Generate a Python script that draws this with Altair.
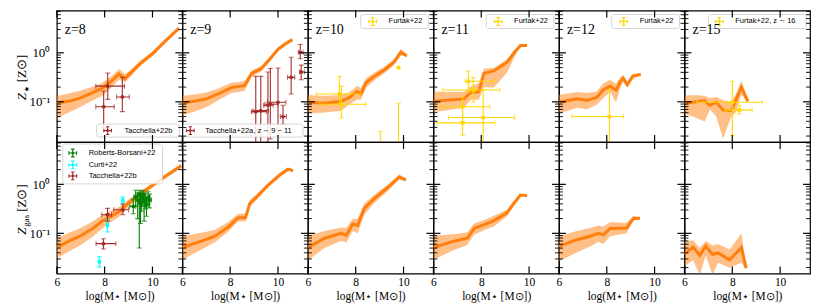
import altair as alt
import pandas as pd

# ---------------- data (log10 values) ----------------
PANEL_LABELS = ["z=8", "z=9", "z=10", "z=11", "z=12", "z=15"]
X_TICKS = [6, 8, 10]
Y_MAJOR = [0.1, 1.0]
Y_MAJOR_LABELS = ["10⁻¹", "10⁰"]
Y_MINOR = [0.02, 0.03, 0.04, 0.05, 0.06, 0.07, 0.08, 0.09,
           0.2, 0.3, 0.4, 0.5, 0.6, 0.7, 0.8, 0.9,
           2, 3, 4, 5, 6, 7]
X_TITLE = "log(M⋆ [M⊙])"
Y_SUBS = ["★", "gas"]

# curves: (log M*, median, lower, upper) with Z in log10
STAR_Z8 = [(6.0, -1.02, -1.33, -0.88), (6.5, -0.99, -1.22, -0.83), (7.0, -0.92, -1.10, -0.77),
           (7.5, -0.81, -0.97, -0.69), (7.9, -0.72, -0.88, -0.61), (8.3, -0.57, -0.70, -0.47),
           (8.6, -0.43, -0.55, -0.33), (8.85, -0.53, -0.60, -0.43), (9.05, -0.43, -0.50, -0.36),
           (9.5, -0.21, -0.27, -0.16), (10.0, -0.02, -0.07, 0.03), (10.5, 0.22, 0.18, 0.27),
           (11.1, 0.50, 0.46, 0.54)]
STAR_Z9 = [(6.0, -1.02, -1.27, -0.88), (6.5, -0.99, -1.20, -0.85), (7.0, -0.94, -1.11, -0.81),
           (7.5, -0.84, -0.97, -0.73), (8.05, -0.71, -0.82, -0.61), (8.6, -0.67, -0.78, -0.58),
           (8.9, -0.42, -0.49, -0.36), (9.3, -0.32, -0.38, -0.27), (9.6, -0.16, -0.21, -0.11),
           (10.0, 0.07, 0.03, 0.11), (10.3, 0.18, 0.14, 0.22), (10.6, 0.27, 0.24, 0.30)]
STAR_Z10 = [(6.0, -1.01, -1.24, -0.86), (6.69, -1.03, -1.22, -0.88), (7.39, -0.99, -1.18, -0.86),
            (7.74, -0.91, -1.05, -0.80), (8.06, -0.79, -0.95, -0.67), (8.22, -0.84, -0.95, -0.72),
            (8.43, -0.61, -0.72, -0.52), (8.78, -0.48, -0.56, -0.40), (9.19, -0.35, -0.42, -0.29),
            (9.6, -0.19, -0.25, -0.13), (9.89, 0.01, -0.05, 0.08), (10.14, -0.06, -0.09, -0.03)]
STAR_Z11 = [(6.0, -0.99, -1.21, -0.79), (6.58, -0.97, -1.17, -0.80), (7.28, -0.94, -1.12, -0.80),
            (7.56, -0.81, -0.96, -0.68), (7.9, -0.79, -0.96, -0.62), (8.11, -0.42, -0.70, -0.32),
            (8.53, -0.37, -0.71, -0.31), (9.08, -0.19, -0.40, -0.13), (9.43, 0.04, -0.05, 0.08),
            (9.64, 0.15, 0.12, 0.18), (9.92, 0.15, 0.13, 0.17)]
STAR_Z12 = [(6.0, -1.01, -1.24, -0.86), (6.75, -0.94, -1.12, -0.80), (7.17, -0.97, -1.15, -0.82),
            (7.58, -0.91, -1.06, -0.79), (7.86, -0.75, -0.92, -0.62), (8.14, -0.68, -0.80, -0.55),
            (8.39, -0.76, -1.01, -0.63), (8.56, -0.59, -0.72, -0.50), (8.69, -0.52, -0.60, -0.45),
            (8.86, -0.65, -0.70, -0.59), (9.08, -0.48, -0.53, -0.43), (9.42, -0.44, -0.47, -0.41)]
STAR_Z15 = [(6.0, -1.03, -1.24, -0.87), (6.5, -1.00, -1.33, -0.86), (6.85, -0.98, -1.40, -0.88),
            (7.06, -1.07, -1.15, -0.92), (7.33, -1.01, -1.30, -0.90), (7.61, -1.17, -1.75, -0.97),
            (7.96, -1.18, -1.30, -1.00), (8.17, -0.94, -1.20, -0.82), (8.38, -0.70, -0.85, -0.57),
            (8.65, -0.99, -1.02, -0.95)]

GAS_Z8 = [(6.0, -1.29, -1.51, -1.10), (6.5, -1.16, -1.37, -0.99), (7.0, -1.05, -1.24, -0.89),
          (7.5, -0.90, -1.07, -0.76), (7.9, -0.75, -0.90, -0.62), (8.3, -0.64, -0.76, -0.53),
          (8.6, -0.56, -0.66, -0.46), (9.0, -0.38, -0.46, -0.31), (9.5, -0.20, -0.26, -0.14),
          (10.0, -0.02, -0.07, 0.03), (10.5, 0.15, 0.11, 0.19), (11.2, 0.38, 0.34, 0.42)]
GAS_Z9 = [(6.0, -1.29, -1.54, -1.06), (6.8, -1.16, -1.33, -0.99), (7.36, -1.06, -1.18, -0.93),
          (7.92, -0.87, -0.97, -0.77), (8.33, -0.68, -0.76, -0.60), (8.64, -0.68, -0.76, -0.60),
          (8.82, -0.39, -0.46, -0.32), (9.1, -0.26, -0.32, -0.20), (9.58, -0.02, -0.06, 0.02),
          (10.07, 0.19, 0.15, 0.23), (10.42, 0.31, 0.28, 0.34), (10.63, 0.28, 0.26, 0.30)]
GAS_Z10 = [(6.0, -1.29, -1.55, -1.05), (6.7, -1.10, -1.30, -0.95), (7.39, -1.00, -1.15, -0.88),
           (7.6, -1.04, -1.19, -0.89), (7.88, -0.81, -0.95, -0.70), (8.08, -0.84, -1.00, -0.70),
           (8.36, -0.49, -0.62, -0.39), (8.78, -0.29, -0.38, -0.21), (9.33, -0.07, -0.14, -0.01),
           (9.82, 0.15, 0.10, 0.20), (10.1, 0.09, 0.06, 0.12)]
GAS_Z11 = [(6.0, -1.29, -1.54, -1.05), (6.86, -1.16, -1.34, -1.02), (7.42, -1.10, -1.24, -0.98),
           (7.7, -0.90, -1.03, -0.80), (8.18, -0.81, -0.92, -0.72), (8.53, -0.74, -0.86, -0.64),
           (9.08, -0.58, -0.65, -0.52), (9.36, -0.39, -0.44, -0.34), (9.64, -0.22, -0.24, -0.20),
           (9.92, -0.23, -0.25, -0.21)]
GAS_Z12 = [(6.0, -1.26, -1.57, -1.06), (6.75, -1.13, -1.39, -0.95), (7.3, -1.06, -1.27, -0.89),
           (7.65, -1.00, -1.17, -0.84), (7.86, -1.03, -1.22, -0.86), (8.14, -0.90, -1.06, -0.77),
           (8.83, -0.89, -1.00, -0.79), (9.11, -0.70, -0.74, -0.64), (9.39, -0.69, -0.71, -0.67)]
GAS_Z15 = [(6.0, -1.42, -1.67, -1.17), (6.36, -1.28, -1.55, -1.14), (6.64, -1.45, -1.85, -1.30),
           (6.89, -1.26, -1.45, -1.15), (7.17, -1.43, -1.85, -1.25), (7.4, -1.40, -1.60, -1.22),
           (7.89, -1.54, -1.70, -1.33), (8.38, -1.29, -1.60, -1.00), (8.58, -1.71, -1.75, -1.68)]

# observations: (x, x_lo, x_hi, logZ, logZ_lo, logZ_hi)
TACCHELLA22B_STAR = [(8.13, 7.63, 8.83, -0.68, -0.95, -0.41),
                     (7.96, 7.63, 8.40, -1.10, -1.53, -0.78),
                     (8.74, 8.50, 9.03, -0.90, -1.20, -0.50)]
TACCHELLA22A = [(9.07, 8.89, 9.51, -1.20, -1.95, -0.48),
                (9.28, 8.95, 9.60, -1.18, -1.95, -0.48),
                (9.58, 9.40, 9.80, -1.07, -1.95, -0.39),
                (9.68, 9.45, 10.00, -1.05, -1.76, -0.32),
                (10.00, 9.55, 10.33, -1.01, -1.69, -0.31),
                (10.21, 10.10, 10.35, -1.30, -1.46, -1.07),
                (10.55, 10.40, 10.70, -0.50, -0.84, -0.09),
                (10.93, 10.85, 11.05, 0.01, -0.12, 0.17),
                (10.97, 10.90, 11.10, -0.39, -0.55, -0.25)]
FURTAK_Z10 = [(7.32, 6.35, 8.22, -0.84, -1.04, -0.48),
              (7.40, 6.50, 8.43, -1.05, -1.33, -0.68),
              (9.79, None, None, -0.30, None, None),
              (9.79, None, None, None, -1.95, -1.03),
              (9.03, None, None, None, -1.95, -1.60)]
FURTAK_Z11 = [(7.46, 7.32, 8.57, -0.58, -0.81, -0.37),
              (7.67, 6.39, 8.78, -0.76, -1.01, -0.50),
              (7.22, 6.28, 8.36, -1.10, -1.40, -0.88),
              (8.08, 6.63, 9.40, -1.32, -1.95, -0.75),
              (7.22, 6.14, 8.57, -1.43, -1.68, -1.10)]
FURTAK_Z12 = [(8.11, 6.54, 8.70, -1.30, -1.95, -0.75)]
FURTAK_Z16 = [(8.00, 6.50, 9.25, -1.01, -1.69, -0.58),
              (8.30, 7.70, 8.83, -1.17, -1.25, -1.08)]
ROBERTS_BORSANI22 = [(9.20, 9.05, 9.30, -0.45, -0.60, -0.30), (9.30, 9.22, 9.38, -0.25, -0.45, -0.12),
                     (9.38, 9.30, 9.45, -0.32, -0.70, -0.18), (9.45, 9.38, 9.52, -0.20, -1.30, -0.12),
                     (9.50, 9.42, 9.58, -0.38, -0.80, -0.22), (9.55, 9.47, 9.63, -0.28, -0.55, -0.15),
                     (9.60, 9.52, 9.68, -0.22, -0.45, -0.12), (9.65, 9.57, 9.73, -0.35, -0.75, -0.20),
                     (9.70, 9.62, 9.78, -0.30, -0.50, -0.18), (9.75, 9.67, 9.83, -0.42, -0.65, -0.28),
                     (9.82, 9.74, 9.90, -0.27, -0.40, -0.15), (9.88, 9.80, 9.96, -0.32, -0.48, -0.20)]
CURTI22 = [(8.76, 8.72, 8.80, -0.33, -0.40, -0.26),
           (8.12, 8.08, 8.16, -0.83, -0.97, -0.71),
           (7.78, 7.74, 7.82, -1.58, -1.69, -1.48)]
TACCHELLA22B_GAS = [(8.12, 7.88, 8.29, -0.62, -0.75, -0.49),
                    (8.76, 8.38, 9.00, -0.52, -0.62, -0.40),
                    (7.95, 7.64, 8.47, -1.21, -1.32, -1.11)]

LEGEND_LABELS = ["Tacchella+22b", "Tacchella+22a, z ∼ 9 − 11", "Furtak+22",
                 "Furtak+22, z ∼ 16", "Roberts-Borsani+22", "Curti+22"]

# ---------------- styling ----------------
W, H = 126, 132
X_DOMAIN = [6.0, 11.25]
Y_DOMAIN = [0.0151, 7.3]
ORANGE = "#ff7f0e"
RED = "#a52a2a"
GREEN = "#008000"
CYAN = "#00ffff"
GOLD = "#ffd700"
SERIF = "Liberation Serif"
SANS = "Liberation Sans"
ERR_GLYPH = ("M-1,0L1,0M0,-1L0,1M-1,-0.45L-1,0.45M1,-0.45L1,0.45"
             "M-0.45,-1L0.45,-1M-0.45,1L0.45,1")
ONE = pd.DataFrame({"a": [0]})

XS = alt.Scale(domain=X_DOMAIN, nice=False, zero=False)
YS = alt.Scale(type="log", domain=Y_DOMAIN, nice=False)

ylabel_expr = " : ".join(
    f"datum.value < {v * 1.5} ? '{lab}'" for v, lab in zip(Y_MAJOR[:-1], Y_MAJOR_LABELS[:-1])
) + f" : '{Y_MAJOR_LABELS[-1]}'"

Y_AXIS = alt.Axis(values=Y_MAJOR, labelExpr=ylabel_expr, ticks=False, domain=False, grid=False,
                  labelFont=SERIF, labelFontSize=13, labelPadding=7, labelColor="black",
                  title=None)
X_AXIS = alt.Axis(values=X_TICKS, format="d", ticks=False, domain=False, grid=False,
                  labelFont=SERIF, labelFontSize=11.5, labelPadding=3, labelFlush=False,
                  labelColor="black", title=X_TITLE, titleFont=SERIF, titleFontSize=11.5,
                  titleFontWeight="normal", titlePadding=3, titleColor="black")


class Enc:
    def __init__(self, xa, ya):
        self.xa = xa
        self.ya = ya

    def X(self, f):
        return alt.X(f + ":Q", scale=XS, axis=self.xa)

    def Y(self, f):
        return alt.Y(f + ":Q", scale=YS, axis=self.ya)


def curve_df(rows):
    df = pd.DataFrame(rows, columns=["x", "med", "lo", "hi"])
    for c in ["med", "lo", "hi"]:
        df[c] = 10 ** df[c]
    return df


def obs_df(rows):
    df = pd.DataFrame(rows, columns=["x", "xlo", "xhi", "y", "ylo", "yhi"], dtype=float)
    for c in ["y", "ylo", "yhi"]:
        df[c] = 10 ** df[c]
    return df


def obs_layers(e, rows, color, shape="circle"):
    df = obs_df(rows)
    out = []
    v = df.dropna(subset=["ylo", "yhi"])
    if len(v):
        out.append(alt.Chart(v).mark_rule(color=color, strokeWidth=1.1, clip=True)
                   .encode(x=e.X("x"), y=e.Y("ylo"), y2=alt.Y2("yhi:Q")))
        out.append(alt.Chart(v).transform_fold(["ylo", "yhi"], as_=["k", "cy"])
                   .mark_tick(orient="horizontal", color=color, size=5, thickness=1.1, clip=True)
                   .encode(x=e.X("x"), y=e.Y("cy")))
    h = df.dropna(subset=["xlo", "xhi", "y"])
    if len(h):
        out.append(alt.Chart(h).mark_rule(color=color, strokeWidth=1.1, clip=True)
                   .encode(y=e.Y("y"), x=e.X("xlo"), x2=alt.X2("xhi:Q")))
        out.append(alt.Chart(h).transform_fold(["xlo", "xhi"], as_=["k", "cx"])
                   .mark_tick(orient="vertical", color=color, size=5, thickness=1.1, clip=True)
                   .encode(x=e.X("cx"), y=e.Y("y")))
    p = df.dropna(subset=["y"])
    if len(p):
        out.append(alt.Chart(p).mark_point(shape=shape, filled=True, size=14, color=color,
                                           opacity=1, clip=True)
                   .encode(x=e.X("x"), y=e.Y("y")))
    return out


def legend_layers(x0, x1, y0, y1, entries):
    out = [alt.Chart(ONE).mark_rect(fill="white", fillOpacity=0.85, stroke="#cccccc",
                                    strokeWidth=0.8, cornerRadius=2)
           .encode(x=alt.value(x0), x2=alt.value(x1), y=alt.value(y0), y2=alt.value(y1))]
    for label, color, sx, tx, ty in entries:
        out.append(alt.Chart(ONE).mark_point(shape=ERR_GLYPH, filled=False, color=color,
                                             strokeWidth=1.1, size=60, opacity=1)
                   .encode(x=alt.value(sx), y=alt.value(ty)))
        out.append(alt.Chart(ONE).mark_point(shape="circle", filled=True, size=7, color=color,
                                             opacity=1)
                   .encode(x=alt.value(sx), y=alt.value(ty)))
        out.append(alt.Chart(pd.DataFrame({"t": [label]}))
                   .mark_text(align="left", baseline="middle", font=SANS, fontSize=7.5,
                              color="black")
                   .encode(x=alt.value(tx), y=alt.value(ty), text="t:N"))
    return out


def ytitle_layers(sub, ybase, subw, subsize, subfont):
    xb = -31
    out = []
    out.append(alt.Chart(pd.DataFrame({"t": ["Z"]}))
               .mark_text(angle=270, align="left", baseline="alphabetic", font=SERIF,
                          fontStyle="italic", fontSize=13, color="black")
               .encode(x=alt.value(xb), y=alt.value(ybase), text="t:N"))
    out.append(alt.Chart(pd.DataFrame({"t": [sub]}))
               .mark_text(angle=270, align="left", baseline="alphabetic", font=subfont,
                          fontSize=subsize, color="black")
               .encode(x=alt.value(xb + 3), y=alt.value(ybase - 8), text="t:N"))
    out.append(alt.Chart(pd.DataFrame({"t": ["[Z⊙]"]}))
               .mark_text(angle=270, align="left", baseline="alphabetic", font=SERIF,
                          fontSize=13, color="black")
               .encode(x=alt.value(xb), y=alt.value(ybase - 8 - subw - 3), text="t:N"))
    return out


def tick_layers(e):
    out = []
    maj = pd.DataFrame({"v": Y_MAJOR})
    mnr = pd.DataFrame({"v": Y_MINOR})
    xt = pd.DataFrame({"v": X_TICKS})
    for df, ln, sw in [(maj, 7, 1.2), (mnr, 4, 0.9)]:
        out.append(alt.Chart(df).mark_rule(color="black", strokeWidth=sw)
                   .encode(y=e.Y("v"), x=alt.value(0), x2=alt.value(ln)))
        out.append(alt.Chart(df).mark_rule(color="black", strokeWidth=sw)
                   .encode(y=e.Y("v"), x=alt.value(W - ln), x2=alt.value(W)))
    out.append(alt.Chart(xt).mark_rule(color="black", strokeWidth=1.2)
               .encode(x=e.X("v"), y=alt.value(H - 7), y2=alt.value(H)))
    out.append(alt.Chart(xt).mark_rule(color="black", strokeWidth=1.2)
               .encode(x=e.X("v"), y=alt.value(0), y2=alt.value(7)))
    return out


def panel(curve, row, col, extra_fn):
    e = Enc(X_AXIS if row == 1 else None, Y_AXIS if col == 0 else None)
    df = curve_df(curve)
    layers = [
        alt.Chart(df).mark_area(color=ORANGE, opacity=0.5, clip=True)
        .encode(x=e.X("x"), y=e.Y("lo"), y2=alt.Y2("hi:Q")),
        alt.Chart(df).mark_line(color=ORANGE, strokeWidth=3, clip=True)
        .encode(x=e.X("x"), y=e.Y("med")),
    ]
    layers += extra_fn(e)
    if row == 0:
        layers.append(alt.Chart(pd.DataFrame({"t": [PANEL_LABELS[col]]}))
                      .mark_text(align="left", baseline="middle", font=SERIF, fontSize=14,
                                 color="black")
                      .encode(x=alt.value(8), y=alt.value(20), text="t:N"))
    if col == 0:
        if row == 0:
            layers += ytitle_layers(Y_SUBS[0], 90, 7, 7, "DejaVu Sans")
        else:
            layers += ytitle_layers(Y_SUBS[1], 93, 12, 9, SERIF)
    layers += tick_layers(e)
    return alt.layer(*layers).properties(width=W, height=H)


top_curves = [STAR_Z8, STAR_Z9, STAR_Z10, STAR_Z11, STAR_Z12, STAR_Z15]
bot_curves = [GAS_Z8, GAS_Z9, GAS_Z10, GAS_Z11, GAS_Z12, GAS_Z15]

top_extra = [
    lambda e: obs_layers(e, TACCHELLA22B_STAR, RED)
    + legend_layers(40, 123, H - 18, H - 5, [(LEGEND_LABELS[0], RED, 51, 68, H - 11.5)]),
    lambda e: obs_layers(e, TACCHELLA22A, RED)
    + legend_layers(1, 121, H - 18, H - 5, [(LEGEND_LABELS[1], RED, 8, 23, H - 11.5)]),
    lambda e: obs_layers(e, FURTAK_Z10, GOLD, "square")
    + legend_layers(53, 121, 4, 18, [(LEGEND_LABELS[2], GOLD, 65, 81, 11)]),
    lambda e: obs_layers(e, FURTAK_Z11, GOLD, "square")
    + legend_layers(53, 121, 4, 18, [(LEGEND_LABELS[2], GOLD, 65, 81, 11)]),
    lambda e: obs_layers(e, FURTAK_Z12, GOLD, "square")
    + legend_layers(53, 121, 4, 18, [(LEGEND_LABELS[2], GOLD, 65, 81, 11)]),
    lambda e: obs_layers(e, FURTAK_Z16, GOLD, "square")
    + legend_layers(24, 122, 4, 18, [(LEGEND_LABELS[3], GOLD, 35, 51, 11)]),
]
bot_extra = [
    lambda e: obs_layers(e, ROBERTS_BORSANI22, GREEN) + obs_layers(e, CURTI22, CYAN)
    + obs_layers(e, TACCHELLA22B_GAS, RED)
    + legend_layers(6, 106, 2, 42, [(LEGEND_LABELS[4], GREEN, 16, 32, 11),
                                    (LEGEND_LABELS[5], CYAN, 16, 32, 23),
                                    (LEGEND_LABELS[0], RED, 16, 32, 34)]),
] + [lambda e: []] * 5

panels = [panel(top_curves[c], 0, c, top_extra[c]) for c in range(6)]
panels += [panel(bot_curves[c], 1, c, bot_extra[c]) for c in range(6)]

chart = (
    alt.concat(*panels, columns=6, spacing=0, bounds="flush")
    .properties(padding={"left": 7, "top": 0, "right": 2, "bottom": 0}, background="white")
    .configure_view(stroke="black", strokeWidth=1.2)
)

chart.save("out.html", embed_options={"renderer": "svg", "actions": False})
